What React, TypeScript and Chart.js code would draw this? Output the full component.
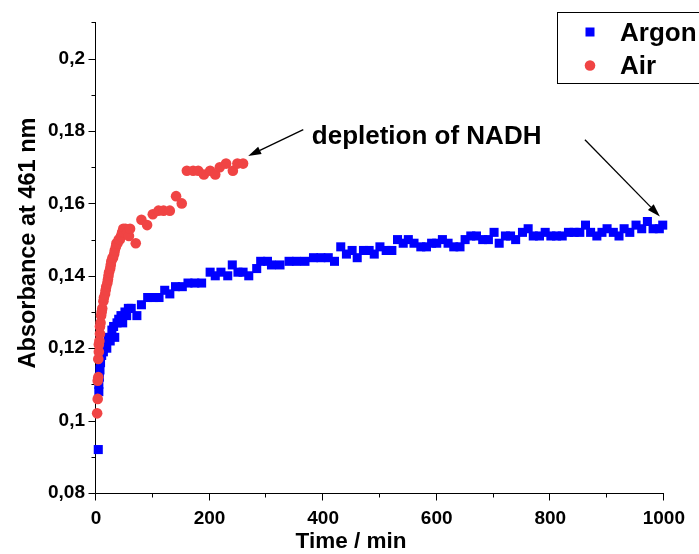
import React, { useEffect, useRef } from 'react';
import { Chart, registerables } from 'chart.js';

Chart.register(...registerables);

// ---- data ----
const argonTime = [
  4, 5, 5, 6, 7, 8, 10, 13, 16, 19,
  22, 25, 28, 31, 33, 37, 40, 44, 47, 51,
  54, 57, 62, 72, 80, 91, 101, 111, 121, 130,
  140, 152, 162, 174, 186, 201, 210, 220, 232, 240,
  250, 259, 269, 283, 290, 302, 309, 324, 340, 353,
  368, 383, 396, 409, 420, 431, 441, 451, 460, 471,
  481, 490, 500, 511, 521, 531, 541, 550, 560, 572,
  582, 591, 600, 610, 620, 630, 641, 650, 660, 670,
  681, 691, 701, 710, 721, 730, 739, 751, 761, 770,
  781, 791, 801, 811, 821, 832, 842, 852, 862, 871,
  882, 891, 900, 911, 921, 930, 940, 951, 961, 971,
  981, 992, 998,
];
const argonAbs = [
  0.092, 0.108, 0.110, 0.112, 0.114, 0.116, 0.118, 0.119, 0.121, 0.120,
  0.123, 0.122, 0.125, 0.126, 0.123, 0.127, 0.128, 0.129, 0.127, 0.130,
  0.129, 0.131, 0.131, 0.129, 0.132, 0.134, 0.134, 0.134, 0.136, 0.135,
  0.137, 0.137, 0.138, 0.138, 0.138, 0.141, 0.140, 0.141, 0.140, 0.143,
  0.141, 0.141, 0.140, 0.142, 0.144, 0.144, 0.143, 0.143, 0.144, 0.144,
  0.144, 0.145, 0.145, 0.145, 0.144, 0.148, 0.146, 0.147, 0.145, 0.147,
  0.147, 0.146, 0.148, 0.147, 0.147, 0.150, 0.149, 0.150, 0.149, 0.148,
  0.148, 0.149, 0.149, 0.150, 0.149, 0.148, 0.148, 0.150, 0.151, 0.151,
  0.150, 0.150, 0.152, 0.149, 0.151, 0.151, 0.150, 0.152, 0.153, 0.151,
  0.151, 0.152, 0.151, 0.151, 0.151, 0.152, 0.152, 0.152, 0.154, 0.152,
  0.151, 0.152, 0.153, 0.152, 0.151, 0.153, 0.152, 0.154, 0.153, 0.155,
  0.153, 0.153, 0.154,
];
const airTime = [
  2, 3, 3, 4, 4, 5, 5, 6, 7, 7,
  8, 9, 10, 11, 13, 14, 16, 17, 18, 20,
  21, 22, 23, 25, 26, 27, 29, 30, 32, 33,
  35, 36, 38, 40, 42, 44, 46, 48, 50, 52,
  55, 58, 60, 70, 80, 90, 100, 110, 119, 130,
  141, 151, 160, 171, 180, 190, 201, 210, 218, 229,
  241, 249, 259,
];
const airAbs = [
  0.102, 0.106, 0.111, 0.112, 0.117, 0.119, 0.121, 0.122, 0.124, 0.126,
  0.127, 0.129, 0.130, 0.131, 0.133, 0.134, 0.135, 0.136, 0.137, 0.138,
  0.139, 0.140, 0.141, 0.142, 0.143, 0.144, 0.145, 0.145, 0.146, 0.147,
  0.148, 0.149, 0.149, 0.150, 0.150, 0.151, 0.152, 0.153, 0.152, 0.153,
  0.152, 0.151, 0.153, 0.149, 0.1555, 0.154, 0.157, 0.158, 0.158, 0.158,
  0.162, 0.160, 0.169, 0.169, 0.169, 0.168, 0.169, 0.168, 0.170, 0.171,
  0.169, 0.171, 0.171,
];

const seriesNames = ['Argon', 'Air'];
const xMajorTicks = [0, 200, 400, 600, 800, 1000];
const xMinorTicks = [100, 300, 500, 700, 900];
const yMajorTicks = [0.08, 0.1, 0.12, 0.14, 0.16, 0.18, 0.2];
const yTickLabels = ['0,08', '0,1', '0,12', '0,14', '0,16', '0,18', '0,2'];
const yMinorTicks = [0.09, 0.11, 0.13, 0.15, 0.17, 0.19, 0.21];
const xTitle = 'Time / min';
const yTitle = 'Absorbance at 461 nm';
const noteText = 'depletion of NADH';
// annotation anchors in data units [time, absorbance]
const noteAnchor = [380, 0.1765];
const arrow1 = [[365, 0.1804], [268, 0.1731]];
const arrow2 = [[861, 0.1776], [993, 0.1564]];

const FONT = '"Liberation Sans", Arial, Helvetica, sans-serif';
const BLUE = '#0000ff';
const RED = 'rgb(240,68,68)';

function drawArrow(ctx: CanvasRenderingContext2D, x1: number, y1: number, x2: number, y2: number) {
  const ang = Math.atan2(y2 - y1, x2 - x1);
  const headLen = 13;
  const headW = 4;
  const bx = x2 - headLen * Math.cos(ang);
  const by = y2 - headLen * Math.sin(ang);
  ctx.beginPath();
  ctx.moveTo(x1, y1);
  ctx.lineTo(bx, by);
  ctx.stroke();
  ctx.beginPath();
  ctx.moveTo(x2, y2);
  ctx.lineTo(bx + headW * Math.sin(ang), by - headW * Math.cos(ang));
  ctx.lineTo(bx - headW * Math.sin(ang), by + headW * Math.cos(ang));
  ctx.closePath();
  ctx.fill();
}

const axesPlugin = {
  id: 'axesDecor',
  beforeDatasetsDraw(chart: any) {
    const { ctx, chartArea, scales } = chart;
    const x = scales.x;
    const y = scales.y;
    ctx.save();
    ctx.strokeStyle = '#000';
    ctx.lineWidth = 1;
    const ax = Math.round(chartArea.left) - 0.5;
    const ay = Math.round(chartArea.bottom) + 0.5;
    ctx.beginPath();
    ctx.moveTo(ax, Math.round(chartArea.top));
    ctx.lineTo(ax, ay);
    ctx.lineTo(Math.round(chartArea.right), ay);
    ctx.stroke();
    ctx.beginPath();
    for (const v of xMajorTicks) {
      const px = Math.round(x.getPixelForValue(v)) - 0.5;
      ctx.moveTo(px, ay);
      ctx.lineTo(px, ay + 7);
    }
    for (const v of xMinorTicks) {
      const px = Math.round(x.getPixelForValue(v)) - 0.5;
      ctx.moveTo(px, ay);
      ctx.lineTo(px, ay + 4);
    }
    for (const v of yMajorTicks) {
      const py = Math.round(y.getPixelForValue(v)) + 0.5;
      ctx.moveTo(ax, py);
      ctx.lineTo(ax - 7, py);
    }
    for (const v of yMinorTicks) {
      const py = Math.round(y.getPixelForValue(v)) + 0.5;
      ctx.moveTo(ax, py);
      ctx.lineTo(ax - 4, py);
    }
    ctx.stroke();
    ctx.restore();
  },
  afterDraw(chart: any) {
    const { ctx, scales } = chart;
    const x = scales.x;
    const y = scales.y;
    ctx.save();
    ctx.fillStyle = '#000';
    ctx.strokeStyle = '#000';
    // axis titles
    ctx.font = `bold 22.5px ${FONT}`;
    ctx.textAlign = 'center';
    ctx.textBaseline = 'alphabetic';
    ctx.fillText(xTitle, 351, 548);
    ctx.save();
    ctx.font = `bold 23.5px ${FONT}`;
    ctx.translate(29, 243);
    ctx.rotate(-Math.PI / 2);
    ctx.textBaseline = 'middle';
    ctx.fillText(yTitle, 0, 0);
    ctx.restore();

    // annotation
    ctx.font = `bold 26px ${FONT}`;
    ctx.textAlign = 'left';
    ctx.textBaseline = 'alphabetic';
    ctx.fillText(noteText, x.getPixelForValue(noteAnchor[0]), y.getPixelForValue(noteAnchor[1]));
    ctx.lineWidth = 1.3;
    for (const a of [arrow1, arrow2]) {
      drawArrow(
        ctx,
        x.getPixelForValue(a[0][0]), y.getPixelForValue(a[0][1]),
        x.getPixelForValue(a[1][0]), y.getPixelForValue(a[1][1])
      );
    }

    // legend
    ctx.lineWidth = 1;
    ctx.strokeRect(557.5, 12.5, 150, 71);
    const ds = chart.data.datasets;
    ctx.fillStyle = ds[0].backgroundColor;
    ctx.fillRect(585.5, 27.5, 9, 9);
    ctx.fillStyle = ds[1].backgroundColor;
    ctx.beginPath();
    ctx.arc(590, 65.5, 5.3, 0, Math.PI * 2);
    ctx.fill();
    ctx.fillStyle = '#000';
    ctx.font = `bold 26px ${FONT}`;
    ctx.textAlign = 'left';
    ctx.fillText(ds[0].label, 620, 41);
    ctx.fillText(ds[1].label, 620, 74);
    ctx.restore();
  },
};

export default function App() {
  const ref = useRef<HTMLCanvasElement>(null);
  useEffect(() => {
    document.body.style.margin = '0';
    const tickFont = { family: FONT, size: 19, weight: 'bold' as const };
    const chart = new Chart(ref.current as HTMLCanvasElement, {
      type: 'scatter',
      data: {
        datasets: [
          {
            label: seriesNames[0],
            data: argonTime.map((t, i) => ({ x: t, y: argonAbs[i] })),
            backgroundColor: BLUE,
            borderColor: BLUE,
            borderWidth: 0,
            pointStyle: 'rect',
            pointRadius: 6.4,
            order: 2,
            clip: false,
          },
          {
            label: seriesNames[1],
            data: airTime.map((t, i) => ({ x: t, y: airAbs[i] })),
            backgroundColor: RED,
            borderColor: RED,
            borderWidth: 0,
            pointStyle: 'circle',
            pointRadius: 5.3,
            order: 1,
            clip: false,
          },
        ],
      },
      options: {
        responsive: false,
        animation: false,
        devicePixelRatio: 1,
        events: [],
        layout: { padding: { top: 22, right: 35, left: 0, bottom: 0 } },
        plugins: { legend: { display: false }, tooltip: { enabled: false } },
        scales: {
          x: {
            type: 'linear',
            min: 0,
            max: 1000,
            grid: { display: false, drawTicks: false, tickLength: 0 },
            border: { display: false },
            afterBuildTicks: (s: any) => { s.ticks = xMajorTicks.map((v) => ({ value: v })); },
            afterFit: (s: any) => { s.height = 61; },
            ticks: {
              color: '#000',
              font: tickFont,
              padding: 14,
              maxRotation: 0,
              autoSkip: false,
              callback: (v: any) => String(v),
            },
          },
          y: {
            type: 'linear',
            min: 0.08,
            max: 0.21,
            grid: { display: false, drawTicks: false, tickLength: 0 },
            border: { display: false },
            afterBuildTicks: (s: any) => { s.ticks = yMajorTicks.map((v) => ({ value: v })); },
            afterFit: (s: any) => { s.width = 96; },
            ticks: {
              color: '#000',
              font: tickFont,
              padding: 11,
              autoSkip: false,
              callback: (_v: any, i: number) => yTickLabels[i],
            },
          },
        },
      },
      plugins: [axesPlugin],
    });
    return () => chart.destroy();
  }, []);
  return (
    <div style={{ position: 'absolute', left: 0, top: 0, width: 699, height: 554, background: '#fff' }}>
      <canvas ref={ref} width={699} height={554} style={{ display: 'block' }} />
    </div>
  );
}
